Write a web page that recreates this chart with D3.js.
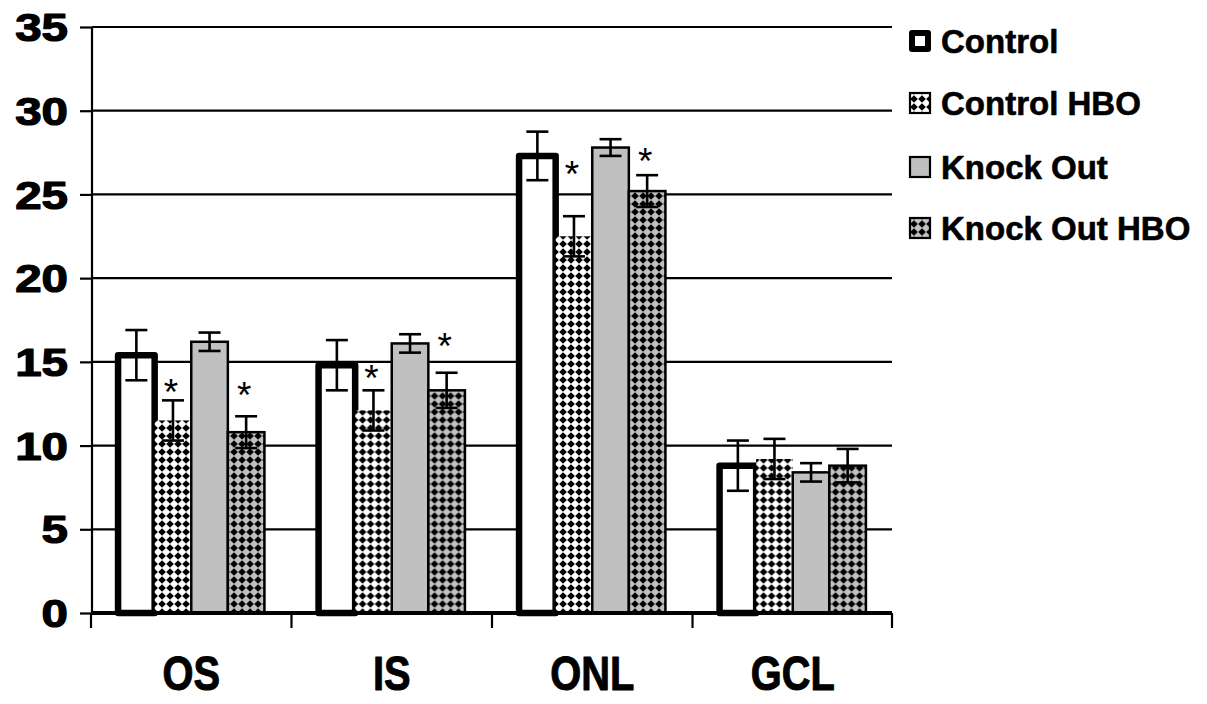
<!DOCTYPE html>
<html>
<head>
<meta charset="utf-8">
<script src="https://cdn.jsdelivr.net/npm/d3@7"></script>
<style>
  html, body { margin: 0; padding: 0; background: #fff; }
  svg { display: block; }
  text { font-family: "Liberation Sans", Arial, sans-serif; fill: #000; }
</style>
</head>
<body>
<svg id="chart" width="1207" height="704"></svg>
<script>
// Retinal layer thickness by group
const categories = ["OS", "IS", "ONL", "GCL"];
const seriesNames = ["Control", "Control HBO", "Knock Out", "Knock Out HBO"];

const control       = [15.4, 14.8, 27.3, 8.8];
const controlHBO    = [11.5, 12.1, 22.5, 9.2];
const knockOut      = [16.2, 16.1, 27.8, 8.4];
const knockOutHBO   = [10.8, 13.3, 25.2, 8.8];

const controlErr     = [1.5, 1.5, 1.45, 1.5];
const controlHBOErr  = [1.2, 1.2, 1.2, 1.2];
const knockOutErr    = [0.55, 0.55, 0.5, 0.55];
const knockOutHBOErr = [0.95, 1.05, 0.95, 1.0];

// significance markers (null = none), placed at these levels
const starControlHBO  = [13.7, 14.5, 26.7, null];
const starKnockOutHBO = [13.5, 16.4, 27.5, null];

const yTicks = [0, 5, 10, 15, 20, 25, 30, 35];

const values = [control, controlHBO, knockOut, knockOutHBO];
const errors = [controlErr, controlHBOErr, knockOutErr, knockOutHBOErr];
const stars  = [null, starControlHBO, null, starKnockOutHBO];

const svg = d3.select("#chart");
const plot = { left: 92, right: 892, top: 27, bottom: 613 };

const y = d3.scaleLinear().domain([0, 35]).range([plot.bottom, plot.top]);
const x0 = d3.scaleBand().domain(categories).range([plot.left, plot.right])
  .paddingInner(0.27).paddingOuter(0.13);
const x1 = d3.scaleBand().domain(seriesNames).range([0, x0.bandwidth()]);

// fill patterns
const defs = svg.append("defs");
function diamondPattern(id, bg) {
  const p = defs.append("pattern").attr("id", id)
    .attr("patternUnits", "userSpaceOnUse").attr("width", 8).attr("height", 8);
  p.append("rect").attr("width", 8).attr("height", 8).attr("fill", bg);
  p.append("path").attr("d", "M4,0.2 L7.8,4 L4,7.8 L0.2,4Z").attr("fill", "#000");
}
diamondPattern("diaWhite", "#fff");
diamondPattern("diaGray", "#c0c0c0");

const styles = {
  "Control":       { fill: "#fff", stroke: "#000", sw: 6.5 },
  "Control HBO":   { fill: "url(#diaWhite)", stroke: "none", sw: 0 },
  "Knock Out":     { fill: "#c0c0c0", stroke: "#000", sw: 2.5 },
  "Knock Out HBO": { fill: "url(#diaGray)", stroke: "#000", sw: 2.5 }
};

// gridlines
svg.append("g").selectAll("line").data(yTicks).join("line")
  .attr("x1", plot.left).attr("x2", plot.right)
  .attr("y1", d => y(d)).attr("y2", d => y(d))
  .attr("stroke", "#000").attr("stroke-width", 2.2);

// y axis
const yAxis = d3.axisLeft(y).tickValues(yTicks).tickSize(12).tickPadding(12).tickFormat(d3.format("d"));
const gy = svg.append("g").attr("transform", `translate(${plot.left},0)`).call(yAxis);
gy.select(".domain").attr("stroke-width", 2.2).attr("d", `M0,${plot.top}V${plot.bottom}`);
gy.selectAll(".tick line").attr("stroke-width", 2.2);
gy.selectAll(".tick text")
  .attr("font-size", 38).attr("font-weight", "bold")
  .attr("font-family", "Liberation Sans, Arial, sans-serif")
  .attr("stroke", "#000").attr("stroke-width", 1.2).attr("stroke-linejoin", "round")
  .attr("dy", "0.36em").attr("x", 0)
  .attr("transform", "translate(-24,0) scale(1.25,1)");

// bars
const groups = svg.append("g").selectAll("g").data(categories).join("g")
  .attr("transform", d => `translate(${x0(d)},0)`);

seriesNames.forEach((s, si) => {
  const st = styles[s];
  groups.append("rect")
    .attr("x", x1(s)).attr("width", x1.bandwidth())
    .attr("y", (d, i) => y(values[si][i]))
    .attr("height", (d, i) => y(0) - y(values[si][i]))
    .attr("fill", st.fill).attr("stroke", st.stroke).attr("stroke-width", st.sw)
    .attr("stroke-linejoin", s === "Control" ? "round" : "miter");
});

// error bars
seriesNames.forEach((s, si) => {
  const cx = x1(s) + x1.bandwidth() / 2;
  const eb = groups.append("g").attr("stroke", "#000").attr("stroke-width", 2.6);
  eb.append("line").attr("x1", cx).attr("x2", cx)
    .attr("y1", (d, i) => y(values[si][i] + errors[si][i]))
    .attr("y2", (d, i) => y(values[si][i] - errors[si][i]));
  [1, -1].forEach(sign => {
    eb.append("line").attr("x1", cx - 11).attr("x2", cx + 11)
      .attr("y1", (d, i) => y(values[si][i] + sign * errors[si][i]))
      .attr("y2", (d, i) => y(values[si][i] + sign * errors[si][i]));
  });
});

// significance asterisks
seriesNames.forEach((s, si) => {
  if (!stars[si]) return;
  const cx = x1(s) + x1.bandwidth() / 2 - 2;
  groups.filter((d, i) => stars[si][i] != null).append("text")
    .attr("x", cx)
    .attr("y", d => y(stars[si][categories.indexOf(d)]) + 21)
    .attr("text-anchor", "middle").attr("font-size", 37)
    .text("*");
});

// x axis
svg.append("line").attr("x1", plot.left).attr("x2", plot.right)
  .attr("y1", y(0)).attr("y2", y(0)).attr("stroke", "#000").attr("stroke-width", 4);
const xTickPos = categories.map(c => x0(c) - x0.step() * x0.paddingInner() / 2).concat([plot.right]);
svg.append("g").selectAll("line").data(xTickPos).join("line")
  .attr("x1", d => d).attr("x2", d => d)
  .attr("y1", y(0)).attr("y2", y(0) + 15)
  .attr("stroke", "#000").attr("stroke-width", 2.2);
svg.append("g").selectAll("text").data(categories).join("text")
  .attr("transform", d => `translate(${x0(d) + x0.bandwidth() / 2},690) scale(0.83,1)`)
  .attr("text-anchor", "middle").attr("font-size", 48).attr("font-weight", "bold")
  .attr("stroke", "#000").attr("stroke-width", 1).attr("stroke-linejoin", "round")
  .text(d => d);

// legend
const legend = svg.append("g").attr("transform", "translate(910,0)");
const legendRowY = [41, 103, 167, 228];
seriesNames.forEach((s, si) => {
  const st = styles[s];
  const row = legend.append("g").attr("transform", `translate(0,${legendRowY[si]})`);
  row.append("rect").attr("x", s === "Control" ? 2 : 0).attr("y", s === "Control" ? -8 : -10)
    .attr("width", s === "Control" ? 16 : 20).attr("height", s === "Control" ? 16 : 20)
    .attr("fill", st.fill).attr("stroke", "#000")
    .attr("stroke-width", s === "Control" ? 6 : 2.2)
    .attr("stroke-linejoin", s === "Control" ? "round" : "miter");
  row.append("text").attr("x", 31).attr("y", 12)
    .attr("font-size", 33).attr("font-weight", "bold")
    .attr("stroke", "#000").attr("stroke-width", 0.6).attr("stroke-linejoin", "round")
    .text(s);
});
</script>
</body>
</html>
